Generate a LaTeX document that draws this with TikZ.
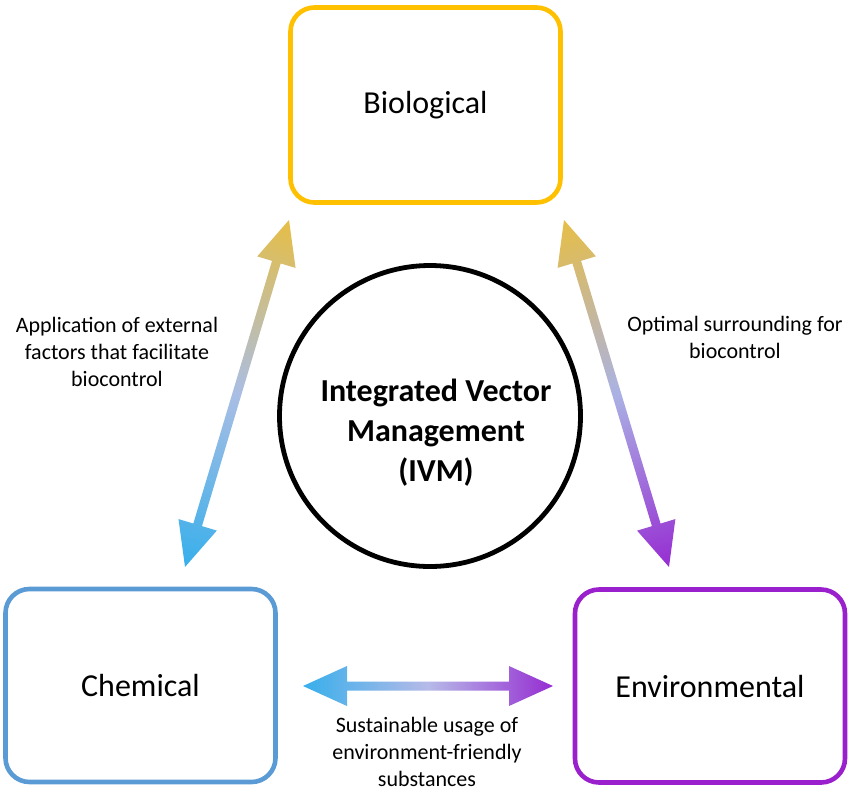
\documentclass[tikz,border=0pt]{standalone}
\usepackage{fontspec}
\setmainfont{Carlito}
\definecolor{colBio}{RGB}{255,192,0}
\definecolor{colChem}{RGB}{91,155,213}
\definecolor{colEnv}{RGB}{153,32,204}
\definecolor{colGold}{RGB}{230,190,70}
\definecolor{colBlue}{RGB}{55,175,235}
\definecolor{colPurp}{RGB}{150,45,210}
\definecolor{colMidL}{RGB}{170,190,228}
\definecolor{colMidR}{RGB}{170,178,228}
\definecolor{colMidH}{RGB}{182,186,232}
\newdimen\ArrAx \newdimen\ArrAy \newdimen\ArrBx \newdimen\ArrBy
\newcommand\gradarrow[5]{%
  \pgfextractx{\ArrAx}{\pgfpointanchor{#1}{center}}%
  \pgfextracty{\ArrAy}{\pgfpointanchor{#1}{center}}%
  \pgfextractx{\ArrBx}{\pgfpointanchor{#2}{center}}%
  \pgfextracty{\ArrBy}{\pgfpointanchor{#2}{center}}%
  \pgfmathsetmacro\ArrLen{veclen(\ArrBx-\ArrAx,\ArrBy-\ArrAy)}%
  \pgfmathsetmacro\ArrAng{atan2(\ArrBy-\ArrAy,\ArrBx-\ArrAx)}%
  \begin{scope}[transform canvas={shift={(\the\ArrAx,\the\ArrAy)},rotate=\ArrAng}]
    \shade[left color=#3,right color=#5,middle color=#4]
      (0pt,0pt) -- (44pt,20pt) -- (44pt,4.5pt) -- ({\ArrLen pt-44pt},4.5pt)
      -- ({\ArrLen pt-44pt},20pt) -- ({\ArrLen pt},0pt) -- ({\ArrLen pt-44pt},-20pt)
      -- ({\ArrLen pt-44pt},-4.5pt) -- (44pt,-4.5pt) -- (44pt,-20pt) -- cycle;
  \end{scope}}
\tikzset{
  box/.style={draw, line width=4.6pt, rounded corners=24pt, fill=white,
    minimum width=270pt, minimum height=193pt, inner sep=0pt,
    font=\fontsize{32}{38}\selectfont},
  lbl/.style={align=center, inner sep=0pt, font=\fontsize{22}{27}\selectfont},
}
\begin{document}
\begin{tikzpicture}[x=1pt,y=-1pt]
\useasboundingbox[fill=white] (0,0) rectangle (851,793);
\node[box, draw=colBio, minimum height=195pt] (bio) at (425.5,105) {Biological};
\node[box, draw=colChem] (chem) at (140.5,685.5) {Chemical};
\node[box, draw=colEnv] (env) at (710,686) {Environmental};
\node[draw, circle, line width=4.8pt, minimum size=301pt, inner sep=0pt] (ivm) at (430,416) {};
\node[align=center, inner sep=0pt, font=\fontsize{32}{40}\bfseries\selectfont] (ivmtext)
  at ([xshift=6pt,yshift=-17pt]ivm.center) {Integrated Vector\\Management\\(IVM)};
\coordinate (l1) at (289,220);
\coordinate (l2) at (185,567);
\coordinate (r1) at (564,220);
\coordinate (r2) at (669,567);
\coordinate (h1) at (303,686);
\coordinate (h2) at (553,686);
\gradarrow{l1}{l2}{colGold}{colMidL}{colBlue}
\gradarrow{r1}{r2}{colGold}{colMidR}{colPurp}
\gradarrow{h1}{h2}{colBlue}{colMidH}{colPurp}
\node[lbl] (lblL) at (117,352) {Application of external\\factors that facilitate\\biocontrol};
\node[lbl] (lblR) at (735,337) {Optimal surrounding for\\biocontrol};
\node[lbl] (lblH) at (427,752) {Sustainable usage of\\environment-friendly\\substances};
\end{tikzpicture}
\end{document}
